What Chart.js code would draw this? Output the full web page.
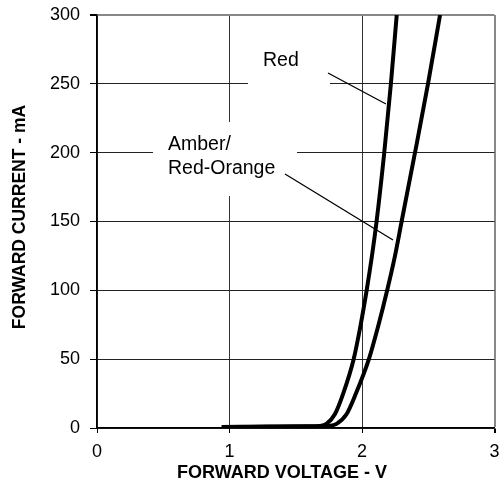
<!DOCTYPE html>
<html>
<head>
<meta charset="utf-8">
<script src="https://cdn.jsdelivr.net/npm/chart.js@4/dist/chart.umd.min.js"></script>
<style>
  html, body { margin: 0; padding: 0; background: #fff; }
  #wrap { width: 499px; height: 485px; }
</style>
</head>
<body>
<div id="wrap"><canvas id="ivGraph"></canvas></div>
<script>
// forward voltage (V) / forward current (mA)
let redVolts = [0.94, 1.3, 1.6, 1.68, 1.732, 1.795, 1.858, 1.937, 1.99, 2.035, 2.075, 2.110, 2.168, 2.218, 2.262];
let redCurrent = [0.8, 1.0, 1.2, 1.5, 3, 10, 25, 50, 75, 100, 125, 150, 200, 250, 300];
let amberVolts = [1.17, 1.5, 1.7, 1.757, 1.808, 1.883, 1.954, 2.052, 2.125, 2.190, 2.249, 2.299, 2.400, 2.498, 2.589];
let amberCurrent = [0.8, 1.0, 1.2, 1.5, 3, 10, 25, 50, 75, 100, 125, 150, 200, 250, 300];
let labelRed = 'Red';
let labelAmber = ['Amber/', 'Red-Orange'];
let xTitle = 'FORWARD VOLTAGE - V';
let yTitle = 'FORWARD CURRENT - mA';

let font = "'Liberation Sans', Arial, sans-serif";

function toPoints(xs, ys) {
  return xs.map((x, i) => ({ x: x, y: ys[i] }));
}

function noOverflow(scale) {
  scale.paddingLeft = 0;
  scale.paddingRight = 0;
  scale.paddingTop = 0;
  scale.paddingBottom = 0;
}

// labels with white boxes, leader lines and axis titles
let annotations = {
  id: 'annotations',
  beforeDatasetsDraw(chart) {
    let c = chart.ctx;
    c.save();
    c.fillStyle = '#fff';
    c.fillRect(248, 40, 82, 60);
    c.fillRect(153, 122, 144, 74);
    c.restore();
  },
  afterDatasetsDraw(chart) {
    let c = chart.ctx;
    c.save();
    c.fillStyle = '#000';
    c.font = '19.5px ' + font;
    c.textBaseline = 'alphabetic';
    c.fillText(labelRed, 263, 66);
    c.fillText(labelAmber[0], 168, 150);
    c.fillText(labelAmber[1], 168, 174);

    c.strokeStyle = '#000';
    c.lineWidth = 1.3;
    c.beginPath();
    c.moveTo(328, 73); c.lineTo(386, 104);
    c.moveTo(285, 174); c.lineTo(393, 240);
    c.stroke();

    c.font = 'bold 18px ' + font;
    c.textAlign = 'center';
    c.textBaseline = 'middle';
    c.fillText(xTitle, 282, 473);
    c.translate(20, 217);
    c.rotate(-Math.PI / 2);
    c.font = 'bold 17.5px ' + font;
    c.fillText(yTitle, 0, 0);
    c.restore();
  }
};

let myGraph = document.getElementById('ivGraph').getContext('2d');

let graph = new Chart(myGraph, {
  type: 'scatter',
  data: {
    datasets: [{
      label: labelRed,
      data: toPoints(redVolts, redCurrent),
      showLine: true,
      borderColor: '#000',
      borderWidth: 4,
      pointRadius: 0,
      cubicInterpolationMode: 'monotone'
    }, {
      label: labelAmber.join(' '),
      data: toPoints(amberVolts, amberCurrent),
      showLine: true,
      borderColor: '#000',
      borderWidth: 4,
      pointRadius: 0,
      cubicInterpolationMode: 'monotone'
    }]
  },
  options: {
    responsive: true,
    maintainAspectRatio: false,
    animation: false,
    layout: { padding: { left: 0, right: 4.5, top: 15, bottom: 0 } },
    plugins: {
      legend: { display: false },
      tooltip: { enabled: false }
    },
    scales: {
      x: {
        type: 'linear',
        min: 0,
        max: 3,
        ticks: { stepSize: 1, color: '#000', padding: 8, font: { family: font, size: 18 } },
        grid: {
          color: (ctx) => ctx.tick && ctx.tick.value === 3 ? '#888' : '#333',
          lineWidth: (ctx) => ctx.tick && ctx.tick.value === 3 ? 2 : 1,
          tickColor: '#000',
          tickLength: 5
        },
        border: { color: '#000', width: 1.5 },
        afterFit(scale) { scale.height = 57; noOverflow(scale); }
      },
      y: {
        min: 0,
        max: 300,
        ticks: { stepSize: 50, color: '#000', padding: 10, font: { family: font, size: 18 } },
        grid: {
          color: (ctx) => ctx.tick && ctx.tick.value === 300 ? '#888' : '#222',
          lineWidth: (ctx) => ctx.tick && ctx.tick.value === 300 ? 2 : 1,
          tickColor: '#000',
          tickLength: 7
        },
        border: { color: '#000', width: 1.5 },
        afterFit(scale) { scale.width = 97; noOverflow(scale); }
      }
    }
  },
  plugins: [annotations]
});
</script>
</body>
</html>
